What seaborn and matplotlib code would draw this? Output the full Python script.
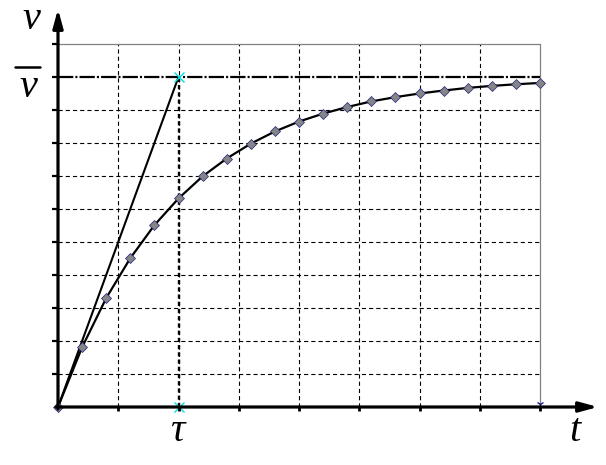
import matplotlib
matplotlib.use("Agg")
import matplotlib.pyplot as plt
import seaborn as sns
import pandas as pd
from matplotlib.lines import Line2D

# ---- data ----
t_vals = [0.0, 0.4, 0.8, 1.2, 1.6, 2.0, 2.4, 2.8, 3.2, 3.6, 4.0,
          4.4, 4.8, 5.2, 5.6, 6.0, 6.4, 6.8, 7.2, 7.6, 8.0]
v_vals = [0.00, 1.81, 3.30, 4.51, 5.51, 6.32, 6.99, 7.53, 7.98, 8.35, 8.65,
          8.89, 9.09, 9.26, 9.39, 9.50, 9.59, 9.67, 9.73, 9.78, 9.82]
tangent_t = [0.0, 2.0]
tangent_v = [0.0, 10.0]
tau = 2.0
vbar = 10.0
x_grid = [1, 2, 3, 4, 5, 6, 7]
y_grid = [1, 2, 3, 4, 5, 6, 7, 8, 9]
x_ticks = [1, 2, 3, 4, 5, 6, 7, 8]
y_ticks = [1, 2, 3, 4, 5, 6, 7, 8, 9, 10, 11]
t_max = 8.0
v_top = 11.0
labels = {"v": "v", "vbar": "v", "tau": "τ", "t": "t"}

sns.set_style("white")
plt.rcParams["lines.scale_dashes"] = False

W, H = 606, 465
X0, Y0, SX, SY = 58, 407, 60.25, 33.0  # pixel mapping


def px2d(px, py):
    return (px - X0) / SX, (Y0 - py) / SY


fig = plt.figure(figsize=(W / 100, H / 100), dpi=100)
ax = fig.add_axes([0, 0, 1, 1])
ax.set_xlim(px2d(0, 0)[0], px2d(W, 0)[0])
ax.set_ylim(px2d(0, H)[1], px2d(0, 0)[1])
ax.axis("off")

grid_kw = dict(color="black", lw=0.8, dashes=(3.0, 2.2), zorder=1)
for gx in x_grid:
    ax.plot([gx, gx], [0, v_top], **grid_kw)
for gy in y_grid:
    ax.plot([0, t_max], [gy, gy], **grid_kw)

# gray border
ax.plot([0, t_max], [v_top, v_top], color="#808080", lw=0.9, zorder=1)
ax.plot([t_max, t_max], [0, v_top], color="#808080", lw=0.9, zorder=1)

# vbar line and tau line
ax.plot([0, t_max], [vbar, vbar], color="black", lw=1.6,
        dashes=(11, 1.5, 1.5, 1.5), zorder=2)
ax.plot([tau, tau], [0, vbar], color="black", lw=1.7,
        dashes=(3.0, 2.2), zorder=2)

# tangent
ax.plot(tangent_t, tangent_v, color="black", lw=1.5, zorder=3)

# curve
df = pd.DataFrame({"t": t_vals, "v": v_vals})
sns.lineplot(data=df, x="t", y="v", ax=ax, color="black", lw=1.6,
             marker="D", markersize=5, markerfacecolor="#858585",
             markeredgecolor="#202080", markeredgewidth=0.5, zorder=4)

# cyan crosses
ax.plot([tau, tau], [vbar, 0], ls="none", marker="x", color="#00e0e0",
        markersize=7, markeredgewidth=1.0, zorder=5)
ax.plot([t_max], [0.08], ls="none", marker="1", color="#202080",
        markersize=5, zorder=5)

# ticks
for ty in y_ticks:
    ax.plot([px2d(52, 0)[0], 0], [ty, ty], color="black", lw=1.6,
            solid_capstyle="butt", zorder=6)
for tx in x_ticks:
    ax.plot([tx, tx], [0, px2d(0, 411)[1]], color="black", lw=2.0,
            solid_capstyle="butt", zorder=6)

# axes with arrows
ax.annotate("", xy=px2d(58, 9), xytext=(0, px2d(0, 409)[1]),
            arrowprops=dict(arrowstyle="-|>,head_length=1.1,head_width=0.3",
                            lw=2.3, color="black", shrinkA=0, shrinkB=0),
            zorder=7)
ax.annotate("", xy=px2d(598, 407), xytext=(px2d(56, 0)[0], 0),
            arrowprops=dict(arrowstyle="-|>,head_length=1.1,head_width=0.3",
                            lw=2.3, color="black", shrinkA=0, shrinkB=0),
            zorder=7)

# labels
fkw = dict(family="Liberation Serif", style="italic", fontsize=29,
           color="black", ha="center", va="baseline")
ax.text(*px2d(31, 29), labels["v"], **fkw)
ax.text(*px2d(28, 97), labels["vbar"], **fkw)
fig.add_artist(Line2D([15 / W, 40 / W], [1 - 67 / H, 1 - 67 / H],
                      color="black", lw=1.8))
ax.text(*px2d(177, 441), labels["tau"], **fkw)
ax.text(*px2d(575, 441), labels["t"], **fkw)

fig.savefig("out.png", dpi=100)
